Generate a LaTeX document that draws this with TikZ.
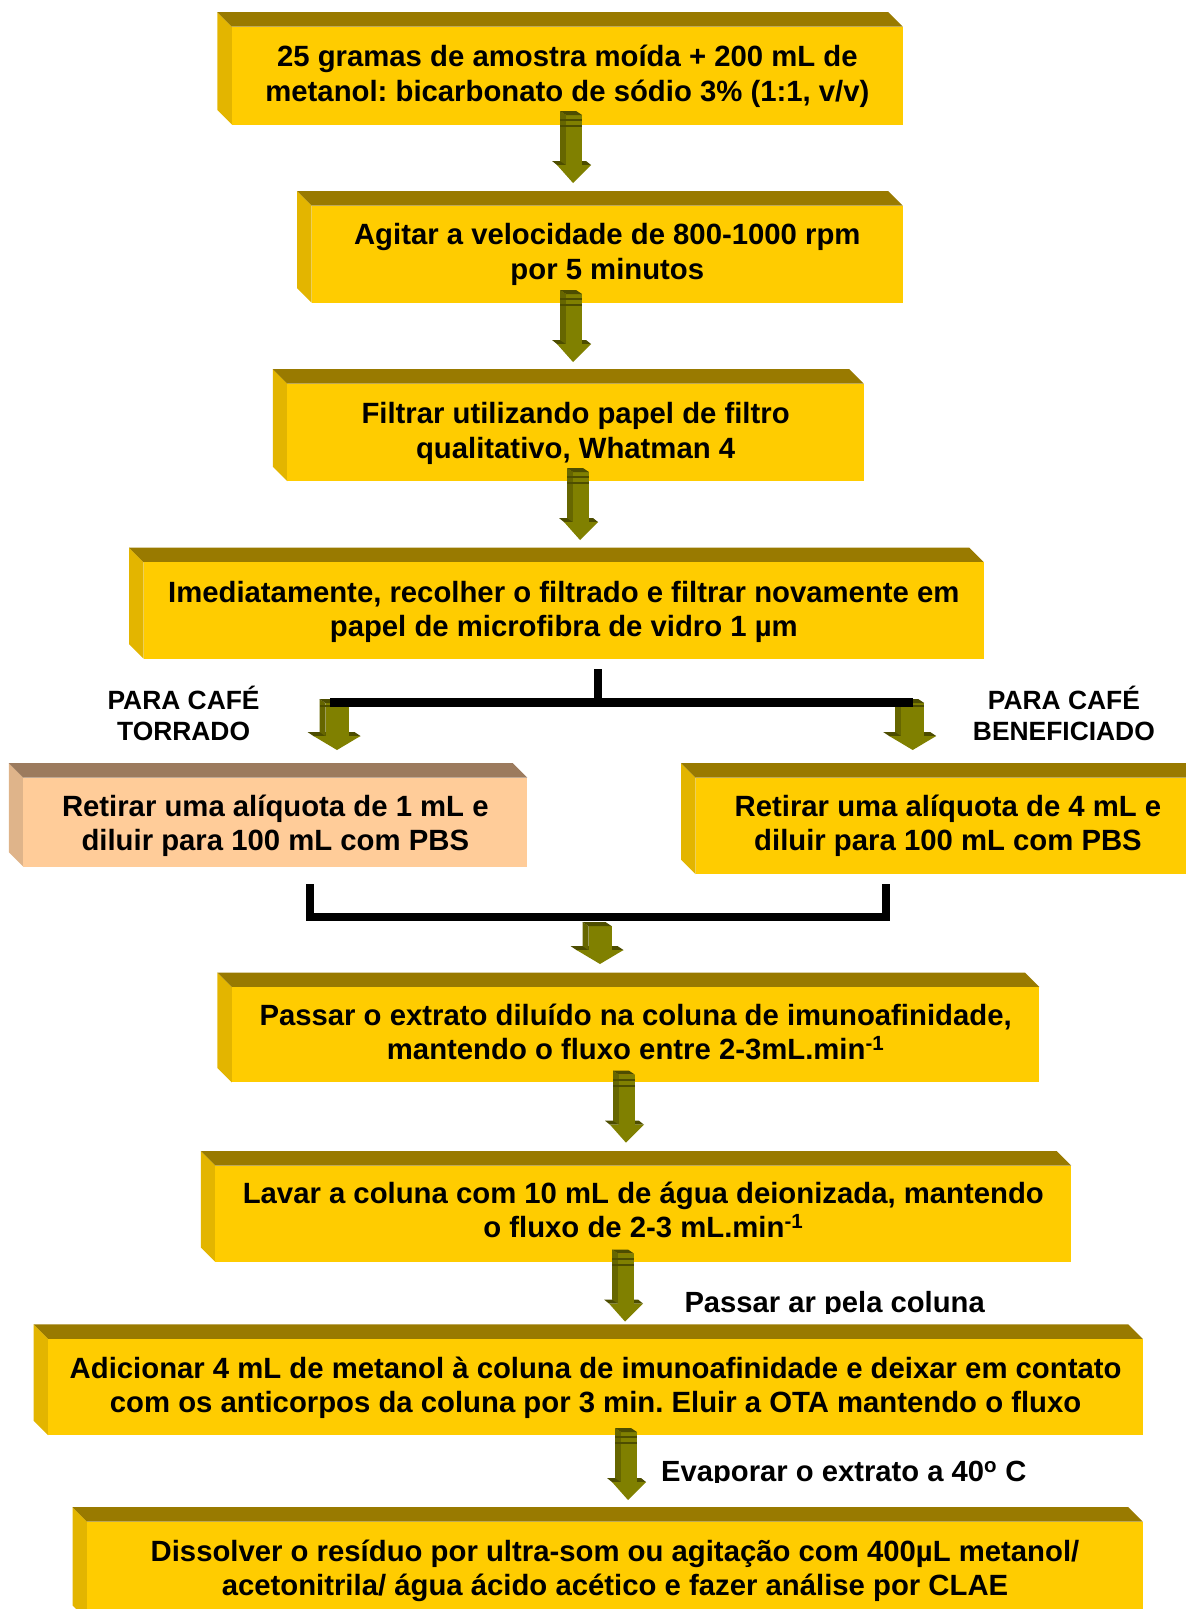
\documentclass[tikz,border=0pt]{standalone}
\usepackage{fontspec}
\setmainfont{Liberation Sans}
\frenchspacing
\usetikzlibrary{calc,fit}
\definecolor{yfront}{HTML}{FFCC00}
\definecolor{ytop}{HTML}{997A00}
\definecolor{yleft}{HTML}{E3B500}
\definecolor{sfront}{HTML}{FFCC99}
\definecolor{stop}{HTML}{9C7B5E}
\definecolor{sleft}{HTML}{DFB48A}
\definecolor{afront}{HTML}{808000}
\definecolor{aside}{HTML}{666600}
\definecolor{atop}{HTML}{4D4D00}
% 3D box: name, x0, y0, x1, y1, colour prefix
\newcommand\boxthreed[6]{%
  \fill[#6left] ({#2-14.5},{#3-14.5}) -- (#2,#3) -- (#2,#5) -- ({#2-14.5},{#5-14.5}) -- cycle;
  \fill[#6top] ({#2-14.5},{#3-14.5}) -- ({#4-14.5},{#3-14.5}) -- (#4,#3) -- (#2,#3) -- cycle;
  \node[fit={(#2,#3) (#4,#5)}, inner sep=0pt, fill=#6front] (#1) {};
}
% narrow striped 3D arrow: centre x, tip y
\newcommand\narrowarrow[2]{%
  \fill[atop] ({#1-22},{#2-22}) -- ({#1+12},{#2-22}) -- ({#1+17},{#2-18}) -- ({#1-17},{#2-18}) -- cycle;
  \fill[aside] ({#1-14},{#2-72}) -- ({#1-8},{#2-68}) -- ({#1-8},{#2-18}) -- ({#1-14},{#2-22}) -- cycle;
  \fill[afront] ({#1-8},{#2-68}) rectangle ({#1+8},{#2-18});
  \fill[atop] ({#1-14},{#2-72}) -- ({#1+2},{#2-72}) -- ({#1+8},{#2-68}) -- ({#1-8},{#2-68}) -- cycle;
  \fill[atop] ({#1-14},{#2-64}) rectangle ({#1+8},{#2-62});
  \fill[atop] ({#1-14},{#2-58}) rectangle ({#1+8},{#2-56});
  \fill[afront] ({#1-17},{#2-18}) -- ({#1+17},{#2-18}) -- ({#1-1},#2) -- cycle;
}
% wide 3D arrow: centre x, top y, tip y
\newcommand\fatarrow[3]{%
  \fill[atop] ({#1-29.5},{#3-18}) -- ({#1+17.5},{#3-18}) -- ({#1+23.5},{#3-14}) -- ({#1-23.5},{#3-14}) -- cycle;
  \fill[aside] ({#1-17.5},#2) -- ({#1-11.5},{#2+4}) -- ({#1-11.5},{#3-14}) -- ({#1-17.5},{#3-18}) -- cycle;
  \fill[afront] ({#1-11.5},{#2+4}) rectangle ({#1+11.5},{#3-14});
  \fill[atop] ({#1-17.5},#2) -- ({#1+5.5},#2) -- ({#1+11.5},{#2+4}) -- ({#1-11.5},{#2+4}) -- cycle;
  \fill[afront] ({#1-23.5},{#3-14}) -- ({#1+23.5},{#3-14}) -- (#1,#3) -- cycle;
}
\begin{document}
\begin{tikzpicture}[x=1pt,y=-1pt,
  txt/.style={font=\bfseries\fontsize{29.3}{34.4}\selectfont, align=center, inner sep=0pt},
  lbl/.style={font=\bfseries\fontsize{26.4}{30.7}\selectfont, align=center, inner sep=0pt},
  side/.style={font=\bfseries\fontsize{29.2}{34}\selectfont, inner sep=0pt, anchor=base west},
  bar/.style={line width=8.5pt, black, line join=miter}]
\useasboundingbox (0,0) rectangle (1186,1609);
\clip (0,0) rectangle (1186,1609);

% side labels (clipped at their baseline as in the source)
\begin{scope}
  \clip (600,1250) rectangle (1186,1313.8);
  \node[side] (l3) at (684.3,1312.8) {Passar ar pela coluna};
\end{scope}
\begin{scope}
  \clip (600,1440) rectangle (1186,1482.5);
  \node[side] (l4) at (661,1481.5) {Evaporar o extrato a 40\textsuperscript{o} C};
\end{scope}

% boxes
\boxthreed{b1}{231.9}{26.7}{902.8}{124.5}{y}
\boxthreed{b2}{311.7}{205.7}{902.8}{302.7}{y}
\boxthreed{b3}{287.3}{383.7}{863.9}{481.2}{y}
\boxthreed{b4}{143.6}{562.2}{983.9}{658.7}{y}
\boxthreed{b5}{23.3}{777.7}{527.3}{866.7}{s}
\boxthreed{b6}{695.6}{777.7}{1200.4}{874.1}{y}
\boxthreed{b7}{231.9}{987}{1039.3}{1082.4}{y}
\boxthreed{b8}{215.4}{1165.5}{1071.1}{1261.9}{y}
\boxthreed{b9}{48.2}{1338.9}{1142.9}{1435.3}{y}
\boxthreed{b10}{87.2}{1521.7}{1142.9}{1620}{y}

% texts
\node[txt] (t1) at (567.4,76.4) {25 gramas de amostra moída + 200 mL de\\metanol: bicarbonato de sódio 3\% (1:1, v/v)};
\node[txt] (t2) at (607.3,254.4) {Agitar a velocidade de 800-1000 rpm\\por 5 minutos};
\node[txt] (t3) at (575.6,433.4) {Filtrar utilizando papel de filtro\\qualitativo, Whatman 4};
\node[txt] (t4) at (563.8,611.9) {Imediatamente, recolher o filtrado e filtrar novamente em\\papel de microfibra de vidro 1 µm};
\node[txt] (t5) at (275.3,825.8) {Retirar uma alíquota de 1 mL e\\diluir para 100 mL com PBS};
\node[txt] (t6) at (948,825.8) {Retirar uma alíquota de 4 mL e\\diluir para 100 mL com PBS};
\node[txt] (t7) at (635.6,1032.1) {Passar o extrato diluído na coluna de imunoafinidade,\\mantendo o fluxo entre 2-3mL.min\textsuperscript{-1}};
\node[txt] (t8) at (643.3,1210.1) {Lavar a coluna com 10 mL de água deionizada, mantendo\\o fluxo de 2-3 mL.min\textsuperscript{-1}};
\node[txt] (t9) at (595.6,1387.5) {Adicionar 4 mL de metanol à coluna de imunoafinidade e deixar em contato\\com os anticorpos da coluna por 3 min. Eluir a OTA mantendo o fluxo};
\node[txt] (t10) at (615,1570.7) {Dissolver o resíduo por ultra-som ou agitação com 400µL metanol/\\acetonitrila/ água ácido acético e fazer análise por CLAE};

% branch labels
\node[lbl] (l1) at (183.6,713.3) {PARA CAFÉ\\TORRADO};
\node[lbl] (l2) at (1063.9,713.3) {PARA CAFÉ\\BENEFICIADO};

% block arrows
\narrowarrow{574}{183}
\narrowarrow{574}{362}
\narrowarrow{581}{540}
\fatarrow{337}{699}{750}
\fill[atop] (319.5,705) rectangle (348.5,707);
\fatarrow{912.7}{699}{750}
\fill[atop] (895.2,705) rectangle (924.2,707);
\fatarrow{600}{922}{964}
\narrowarrow{627}{1142.7}
\narrowarrow{626}{1321.5}
\narrowarrow{629}{1500}

% black split / join lines
\coordinate (s0) at (598,669);
\coordinate (s1) at (598,702.5);
\coordinate (sl) at (330,702.5);
\coordinate (sr) at (913,702.5);
\draw[bar, line width=8pt] (s0) -- (s1);
\draw[bar] (sl) -- (sr);
\coordinate (j0) at (310,884);
\coordinate (j1) at (310,917);
\coordinate (j2) at (885.5,917);
\coordinate (j3) at (885.5,884);
\draw[bar, line width=8pt] (j0) -- (j1) -- (j2) -- (j3);
\end{tikzpicture}
\end{document}
